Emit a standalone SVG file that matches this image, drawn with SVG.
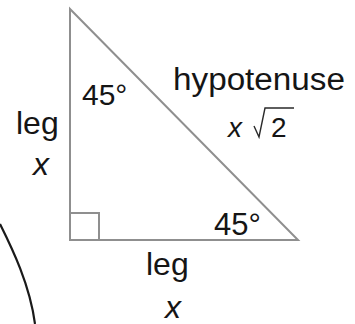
<svg xmlns="http://www.w3.org/2000/svg" width="355" height="324" viewBox="0 0 355 324">
<style>
.edge{fill:none;stroke:#8f8f8f;stroke-width:2;stroke-linecap:square}
.lbl{font-family:"Liberation Sans",Arial,sans-serif;fill:#151515}
.var{font-family:"Liberation Sans",Arial,sans-serif;font-style:italic;fill:#151515}
</style>
<rect width="355" height="324" fill="#ffffff"/>
<g id="triangle">
<path class="edge" d="M70,9 L70,240 L298,240 Z"/>
<path class="edge" d="M71,213 L99,213 L99,240"/>
</g>
<g id="labels">
<text class="lbl" x="82" y="105" font-size="30">45°</text>
<text class="lbl" x="16" y="134" font-size="32">leg</text>
<text class="var" x="33" y="175" font-size="32">x</text>
<text class="lbl" x="173" y="90" font-size="31" textLength="172" lengthAdjust="spacingAndGlyphs">hypotenuse</text>
<text class="var" x="228" y="137" font-size="28">x</text>
<path d="M254,126 L259,137 L265,108 L294,108" fill="none" stroke="#2a2a2a" stroke-width="1.4"/>
<text class="lbl" x="271" y="137" font-size="28">2</text>
<text class="lbl" x="214" y="235" font-size="31">45°</text>
<text class="lbl" x="146" y="275" font-size="32">leg</text>
<text class="var" x="165" y="318" font-size="32">x</text>
</g>
<g id="curve">
<path d="M0,224 C12,248 30,285 35,324" fill="none" stroke="#1a1a1a" stroke-width="2.2"/>
</g>
</svg>
